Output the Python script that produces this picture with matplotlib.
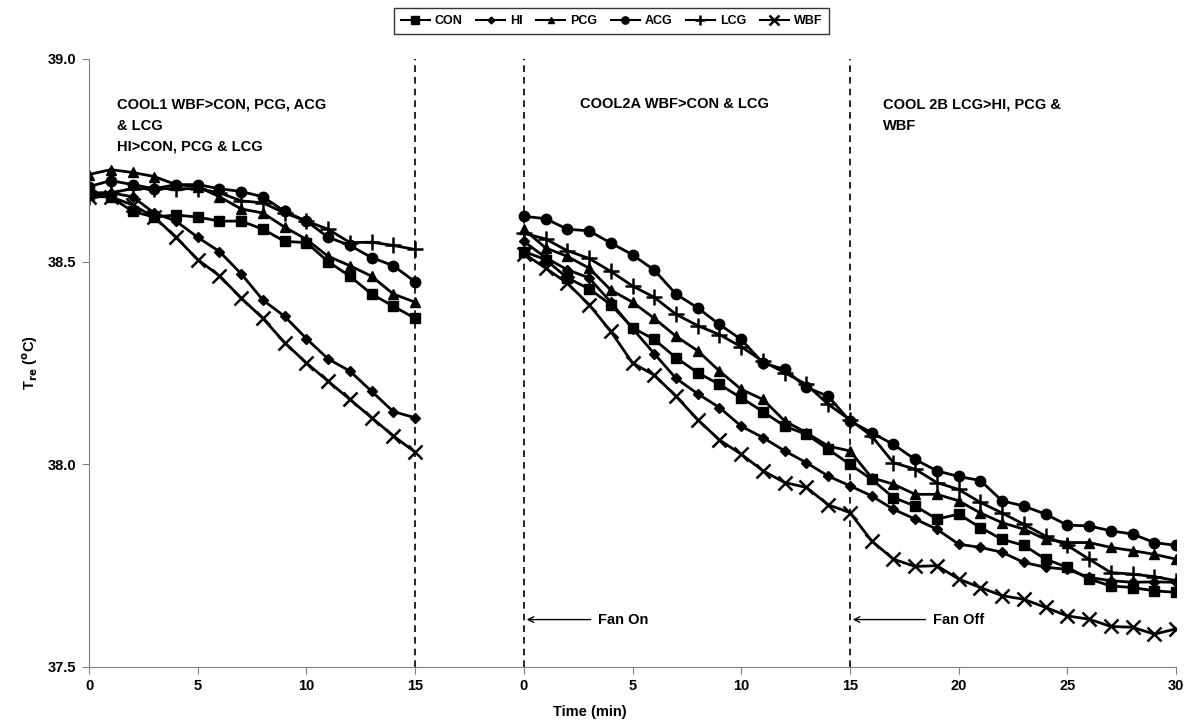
import matplotlib.pyplot as plt
import numpy as np

plt.rcParams['font.family'] = ['Liberation Sans', 'DejaVu Sans']
plt.rcParams['font.weight'] = 'bold'

# COOL1 period (0-15 min) and COOL2 period (0-30 min)
t1 = np.arange(0, 16)
t2 = np.arange(0, 31)
gap = 20  # where the second period starts on the shared axis

con1 = [38.665, 38.66, 38.624, 38.61, 38.615, 38.61, 38.60, 38.60, 38.58, 38.55,
        38.547, 38.50, 38.464, 38.42, 38.39, 38.36]
hi1 = [38.67, 38.67, 38.66, 38.62, 38.60, 38.56, 38.525, 38.47, 38.405, 38.365,
       38.31, 38.26, 38.23, 38.18, 38.13, 38.115]
pcg1 = [38.715, 38.727, 38.72, 38.71, 38.69, 38.685, 38.66, 38.63, 38.62, 38.585,
        38.555, 38.513, 38.49, 38.464, 38.42, 38.40]
acg1 = [38.685, 38.70, 38.69, 38.68, 38.69, 38.69, 38.68, 38.673, 38.66, 38.624,
        38.60, 38.56, 38.54, 38.51, 38.49, 38.45]
lcg1 = [38.66, 38.67, 38.68, 38.68, 38.68, 38.68, 38.67, 38.65, 38.645, 38.62,
        38.60, 38.58, 38.547, 38.548, 38.54, 38.53]
wbf1 = [38.66, 38.66, 38.64, 38.61, 38.56, 38.505, 38.465, 38.41, 38.36, 38.30,
        38.25, 38.205, 38.16, 38.115, 38.07, 38.03]

con2 = [38.525, 38.505, 38.46, 38.433, 38.394, 38.337, 38.308, 38.263, 38.226, 38.197,
        38.164, 38.13, 38.094, 38.074, 38.037, 38.0, 37.963, 37.918, 37.897, 37.865,
        37.877, 37.844, 37.815, 37.80, 37.766, 37.746, 37.717, 37.70, 37.696, 37.688,
        37.684]
hi2 = [38.55, 38.51, 38.48, 38.46, 38.40, 38.335, 38.273, 38.212, 38.174, 38.14,
       38.094, 38.066, 38.033, 38.004, 37.971, 37.947, 37.922, 37.889, 37.865, 37.84,
       37.803, 37.795, 37.783, 37.758, 37.746, 37.741, 37.721, 37.713, 37.709, 37.71,
       37.709]
pcg2 = [38.58, 38.534, 38.513, 38.484, 38.43, 38.40, 38.36, 38.316, 38.28, 38.23,
        38.185, 38.16, 38.107, 38.078, 38.045, 38.033, 37.967, 37.951, 37.926, 37.926,
        37.91, 37.88, 37.856, 37.84, 37.815, 37.807, 37.807, 37.795, 37.787, 37.778,
        37.766]
acg2 = [38.612, 38.606, 38.58, 38.576, 38.546, 38.517, 38.479, 38.42, 38.386, 38.345,
        38.308, 38.25, 38.234, 38.19, 38.168, 38.107, 38.078, 38.049, 38.012, 37.984,
        37.97, 37.96, 37.91, 37.897, 37.877, 37.85, 37.848, 37.836, 37.828, 37.807,
        37.80]
lcg2 = [38.57, 38.556, 38.527, 38.508, 38.476, 38.44, 38.412, 38.37, 38.342, 38.32,
        38.29, 38.254, 38.226, 38.197, 38.148, 38.11, 38.07, 38.004, 37.988, 37.955,
        37.938, 37.906, 37.88, 37.852, 37.823, 37.80, 37.766, 37.733, 37.729, 37.723,
        37.713]
wbf2 = [38.52, 38.484, 38.447, 38.394, 38.328, 38.25, 38.22, 38.168, 38.11, 38.06,
        38.025, 37.984, 37.955, 37.943, 37.90, 37.881, 37.811, 37.766, 37.748, 37.75,
        37.717, 37.696, 37.676, 37.667, 37.647, 37.626, 37.618, 37.60, 37.598, 37.581,
        37.594]

groups = ['CON', 'HI', 'PCG', 'ACG', 'LCG', 'WBF']
markers = ['s', 'D', '^', 'o', '+', 'x']
sizes = [7.5, 5, 7, 7.5, 11, 9.5]
first = [con1, hi1, pcg1, acg1, lcg1, wbf1]
second = [con2, hi2, pcg2, acg2, lcg2, wbf2]

xticks = [0, 5, 10, 15, 20, 25, 30, 35, 40, 45, 50]
xticklabels = ['0', '5', '10', '15', '0', '5', '10', '15', '20', '25', '30']
yticks = [37.5, 38.0, 38.5, 39.0]

fig = plt.figure(figsize=(11.92, 7.21), dpi=100)
ax = fig.add_axes([0.0747, 0.0749, 0.9119, 0.8433])

for name, m, ms, a, b in zip(groups, markers, sizes, first, second):
    mew = 1.8 if m in ('+', 'x') else 1
    ax.plot(t1, a, color='black', lw=2, marker=m, ms=ms, mew=mew, label=name)
    ax.plot(t2 + gap, b, color='black', lw=2, marker=m, ms=ms, mew=mew)

for xv in [15, 20, 35]:
    ax.axvline(xv, color='black', lw=1.2, ls=(0, (4, 3)))

ax.set_xlim(0, 50)
ax.set_ylim(37.5, 39.0)
ax.set_xticks(xticks)
ax.set_xticklabels(xticklabels)
ax.set_yticks(yticks)
ax.set_yticklabels(['%.1f' % v for v in yticks])
ax.tick_params(axis='both', direction='out', length=5, color='gray',
               labelsize=10.5, pad=4)
for s in ['top', 'right']:
    ax.spines[s].set_visible(False)
for s in ['left', 'bottom']:
    ax.spines[s].set_color('gray')

ax.set_xlabel('Time (min)', fontsize=10.5, fontweight='bold')
ax.xaxis.set_label_coords(0.461, -0.062)
ax.set_ylabel(r'T$_{\mathbf{re}}$ ($^{\mathbf{o}}$C)', fontsize=10.5,
              fontweight='bold')
ax.yaxis.set_label_coords(-0.045, 0.5)

txt = dict(fontsize=10.5, fontweight='bold', va='top', ha='left',
           linespacing=1.65)
ax.text(1.3, 38.905, 'COOL1 WBF>CON, PCG, ACG\n& LCG\nHI>CON, PCG & LCG', **txt)
ax.text(22.6, 38.905, 'COOL2A WBF>CON & LCG', **txt)
ax.text(36.5, 38.905, 'COOL 2B LCG>HI, PCG &\nWBF', **txt)

arrow = dict(arrowstyle='->', color='black', lw=1)
ax.annotate('', xy=(20, 37.617), xytext=(23.2, 37.617), arrowprops=arrow)
ax.text(23.4, 37.617, 'Fan On', fontsize=10.5, fontweight='bold', va='center')
ax.annotate('', xy=(35, 37.617), xytext=(38.6, 37.617), arrowprops=arrow)
ax.text(38.8, 37.617, 'Fan Off', fontsize=10.5, fontweight='bold', va='center')

leg = fig.legend(loc='upper center', bbox_to_anchor=(0.513, 0.997), ncol=6,
                 fontsize=9, frameon=True, fancybox=False, edgecolor='black',
                 handlelength=2.3, columnspacing=1.1, markerscale=0.7,
                 borderpad=0.55, handletextpad=0.4)
leg.get_frame().set_linewidth(1)
for line in leg.get_lines():
    line.set_linewidth(1.5)

fig.savefig('out.png', dpi=100)
